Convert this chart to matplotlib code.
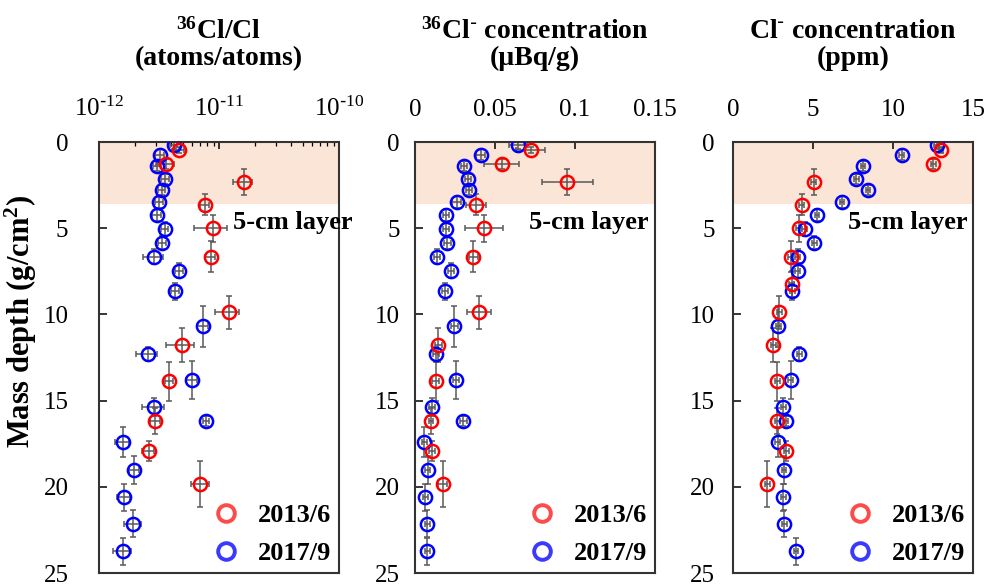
import numpy as np
import matplotlib.pyplot as plt
from matplotlib.lines import Line2D
from matplotlib.transforms import blended_transform_factory

plt.rcParams['font.family'] = ['Liberation Serif', 'DejaVu Serif']
plt.rcParams['mathtext.default'] = 'regular'

nan = np.nan

# mass depth (g/cm2) and half sample thickness
depth_2017 = [0.19, 0.73, 1.39, 2.13, 2.77, 3.47, 4.22, 5.05, 5.83, 6.65, 7.46,
              8.66, 10.7, 12.3, 13.8, 15.37, 16.2, 17.4, 19.03, 20.6, 22.15, 23.74]
derr_2017 = [0.19, 0.3, 0.3, 0.3, 0.3, 0.35, 0.35, 0.4, 0.4, 0.45, 0.45,
             0.5, 1.2, 0.4, 1.1, 0.55, 0.3, 0.85, 0.8, 0.78, 0.78, 0.78]
depth_2013 = [0.46, 1.27, 2.33, 3.63, 5.0, 6.66, 8.24, 9.87, 11.78, 13.88, 16.18, 17.9, 19.84]
derr_2013 = [0.2, 0.3, 0.75, 0.6, 0.78, 0.9, 0.75, 0.95, 1.0, 1.12, 0.77, 0.58, 1.35]

# 36Cl/Cl (x 1e-12)
ratio_2017 = [4.2, 3.2, 3.06, 3.55, 3.33, 3.18, 3.03, 3.53, 3.37, 2.87, 4.67,
              4.3, 7.3, 2.55, 5.9, 2.87, 7.8, 1.57, 1.97, 1.61, 1.93, 1.57]
ratio_err_2017 = [0.3, 0.25, 0.25, 0.25, 0.25, 0.25, 0.25, 0.25, 0.25, 0.55, 0.35,
                  0.35, 0.8, 0.5, 0.6, 0.6, 0.4, 0.2, 0.2, 0.2, 0.3, 0.27]
ratio_2013 = [4.67, 3.6, 16.0, 7.6, 8.9, 8.5, nan, 12.0, 4.9, 3.85, 2.95, 2.6, 7.0]
ratio_err_2013 = [0.4, 0.6, 3.0, 0.6, 2.7, 0.8, nan, 2.7, 1.3, 0.3, 0.3, 0.3, 1.2]

# 36Cl- concentration (uBq/g)
act_2017 = [0.0642, 0.041, 0.0306, 0.0331, 0.0338, 0.026, 0.0194, 0.0192, 0.0202, 0.0139, 0.0225,
            0.0188, 0.0246, 0.0131, 0.0256, 0.0108, 0.0302, 0.0058, 0.0079, 0.0065, 0.0077, 0.0077]
act_err_2017 = [0.0057, 0.003, 0.002, 0.002, 0.002, 0.003, 0.002, 0.002, 0.002, 0.002, 0.002,
                0.002, 0.002, 0.002, 0.002, 0.002, 0.002, 0.0015, 0.0015, 0.0015, 0.0015, 0.0015]
act_2013 = [0.0723, 0.0542, 0.0952, 0.0381, 0.0431, 0.0365, nan, 0.04, 0.0146, 0.0129, 0.01, 0.0108, 0.0173]
act_err_2013 = [0.009, 0.011, 0.0158, 0.006, 0.012, 0.003, nan, 0.0075, 0.002, 0.002, 0.0015, 0.002, 0.003]

# Cl- concentration (ppm)
cl_2017 = [12.73, 10.55, 8.12, 7.71, 8.43, 6.81, 5.25, 4.49, 5.07, 4.03, 4.03,
           3.7, 2.82, 4.13, 3.6, 3.13, 3.3, 2.78, 3.18, 3.13, 3.2, 3.93]
cl_2013 = [13.0, 12.52, 5.05, 4.28, 4.11, 3.6, 3.66, 2.89, 2.51, 2.76, 2.76, 3.34, 2.14]
cl_err_2017 = [0.15] * len(cl_2017)
cl_err_2013 = [0.15] * len(cl_2013)

titles = [(r'$^{36}$Cl/Cl', '(atoms/atoms)'),
          (r'$^{36}$Cl$^{\text{-}}$ concentration', '(µBq/g)'),
          (r'Cl$^{\text{-}}$ concentration', '(ppm)')]
labels = ['2013/6', '2017/9']
red, blue = '#ff0000', '#0000ff'

fig = plt.figure(figsize=(9.89, 5.84), dpi=100)
lefts = [0.1001, 0.4196, 0.7412]
axes = [fig.add_axes([l, 0.0188, 0.2427, 0.738]) for l in lefts]

panels = [
    (np.array(ratio_2013) * 1e-12, np.array(ratio_err_2013) * 1e-12,
     np.array(ratio_2017) * 1e-12, np.array(ratio_err_2017) * 1e-12),
    (act_2013, act_err_2013, act_2017, act_err_2017),
    (cl_2013, cl_err_2013, cl_2017, cl_err_2017),
]
text_x = [0.558, 0.475, 0.479]
ypads = [22, 11, 13]

for i, ax in enumerate(axes):
    x13, e13, x17, e17 = panels[i]
    ax.axhspan(0, 3.62, color='#fbe5d6', lw=0, zorder=0)
    ax.errorbar(x17, depth_2017, xerr=e17, yerr=derr_2017, fmt='none',
                ecolor='#5a5a5a', elinewidth=1.1, capsize=2.5, capthick=1.1, zorder=2)
    ax.errorbar(x13, depth_2013, xerr=e13, yerr=derr_2013, fmt='none',
                ecolor='#5a5a5a', elinewidth=1.1, capsize=2.5, capthick=1.1, zorder=2)
    ax.plot(x17, depth_2017, 'o', mfc='none', mec=blue, ms=9.5, mew=1.8, zorder=3)
    ax.plot(x13, depth_2013, 'o', mfc='none', mec=red, ms=9.5, mew=1.8, zorder=4)

    ax.set_ylim(25, 0)
    ax.set_yticks([0, 5, 10, 15, 20, 25])
    ax.xaxis.tick_top()
    ax.tick_params(axis='x', which='major', direction='in', length=5, width=1.1,
                   labelsize=18, pad=15, top=True, bottom=False)
    ax.tick_params(axis='x', which='minor', direction='in', length=3, width=0.9,
                   top=True, bottom=False)
    ax.tick_params(axis='y', direction='in', length=6, width=1.1, labelsize=18,
                   pad=ypads[i], right=False)
    for s in ax.spines.values():
        s.set_linewidth(1.5)
        s.set_color('#333333')

    ax.text(0.5, 1.257, titles[i][0], transform=ax.transAxes, ha='center', va='center',
            fontsize=20, fontweight='bold')
    ax.text(0.5, 1.193, titles[i][1], transform=ax.transAxes, ha='center', va='center',
            fontsize=20, fontweight='bold')

    tr = blended_transform_factory(ax.transAxes, ax.transData)
    ax.text(text_x[i], 4.67, '5-cm layer', transform=tr, ha='left', va='center',
            fontsize=19, fontweight='bold', clip_on=False, zorder=5)

    handles = [Line2D([], [], ls='none', marker='o', mfc='none', mec='#ff4a4a', ms=12, mew=2.8),
               Line2D([], [], ls='none', marker='o', mfc='none', mec='#3a3aff', ms=12, mew=2.8)]
    ax.legend(handles, labels, loc='lower right', frameon=False,
              prop={'weight': 'bold', 'size': 19}, handlelength=1.0, handletextpad=0.7,
              labelspacing=0.55, borderaxespad=0.1, borderpad=0.2)

axes[0].set_xscale('log')
axes[0].set_xlim(1e-12, 1e-10)
axes[0].set_xticks([1e-12, 1e-11, 1e-10])
axes[0].set_xticklabels([r'10$^{\text{-}12}$', r'10$^{\text{-}11}$', r'10$^{\text{-}10}$'])

axes[1].set_xlim(0, 0.15)
axes[1].set_xticks([0, 0.05, 0.1, 0.15])
axes[1].set_xticklabels(['0', '0.05', '0.1', '0.15'])

axes[2].set_xlim(0, 15)
axes[2].set_xticks([0, 5, 10, 15])

fig.text(0.021, 0.45, 'Mass depth (g/cm$^{2}$)', rotation=90, ha='center', va='center',
         fontsize=22, fontweight='bold')

fig.savefig('out.png', dpi=100)
